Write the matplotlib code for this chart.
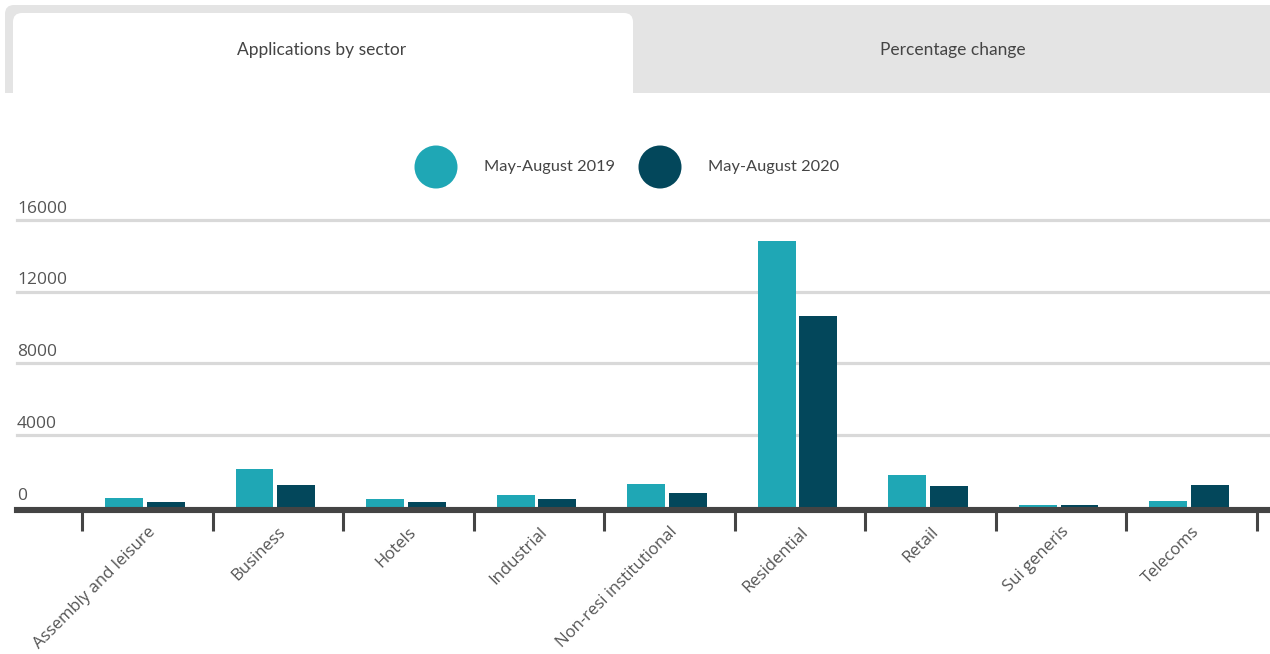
import matplotlib.pyplot as plt
from matplotlib.patches import FancyBboxPatch, Rectangle
import matplotlib.transforms as mtransforms
import numpy as np

sectors = ["Assembly and leisure", "Business", "Hotels", "Industrial",
           "Non-resi institutional", "Residential", "Retail", "Sui generis",
           "Telecoms"]
apps_2019 = [500, 2110, 440, 670, 1280, 14830, 1780, 110, 330]
apps_2020 = [280, 1220, 280, 440, 780, 10650, 1170, 110, 1220]
series_names = ["May-August 2019", "May-August 2020"]
y_ticks = [0, 4000, 8000, 12000, 16000]
tab_names = ["Applications by sector", "Percentage change"]

C19 = "#1fa7b5"
C20 = "#03475b"
AXIS = "#444444"
TEXT = "#555555"

W, H = 1270, 654
fig = plt.figure(figsize=(W / 100, H / 100), dpi=100)

# background layer in pixel units for the tab strip
bg = fig.add_axes([0, 0, 1, 1], zorder=0)
bg.set_xlim(0, W)
bg.set_ylim(H, 0)
bg.axis("off")
bg.add_patch(FancyBboxPatch((5, 5), W - 5 + 20, 88,
                            boxstyle="round,pad=0,rounding_size=9",
                            fc="#e4e4e4", ec="none"))
bg.add_patch(Rectangle((5, 60), W, 33, fc="#e4e4e4", ec="none"))
bg.add_patch(FancyBboxPatch((13, 13), 620, 100,
                            boxstyle="round,pad=0,rounding_size=9",
                            fc="white", ec="none"))
bg.add_patch(Rectangle((0, 93), W, H - 93, fc="white", ec="none"))
bg.text(322, 50, tab_names[0], ha="center", va="center",
        fontsize=12.5, color="#444444", family="Lato")
bg.text(953, 50, tab_names[1], ha="center", va="center",
        fontsize=12.5, color="#444444", family="Lato")

# legend: circles plus labels
for cx, col, name in zip([436, 660], [C19, C20], series_names):
    bg.add_patch(plt.Circle((cx, 167), 21.5, fc=col, ec="none"))
    bg.text(cx + 48, 167, name, ha="left", va="center",
            fontsize=11.8, color="#444444", family="Lato")

# main chart
x0, y_top, y_zero = 17, 220, 507
ax = fig.add_axes([x0 / W, (H - y_zero) / H, (W - x0) / W, (y_zero - y_top) / H],
                  zorder=1)
ax.patch.set_alpha(0)

x = np.arange(len(sectors))
bw = 0.29
ax.bar(x - 0.18, apps_2019, width=bw, color=C19, zorder=2)
ax.bar(x + 0.14, apps_2020, width=bw, color=C20, zorder=2)

ax.set_xlim(-1.0, 8.6)
ax.set_ylim(0, 16000)

for v in y_ticks[1:]:
    ax.axhline(v, color="#d9d9d9", lw=2.3, zorder=0, clip_on=False)

trans = mtransforms.blended_transform_factory(ax.transAxes, ax.transData)
for v in y_ticks:
    ax.annotate(str(v), xy=(0, v), xycoords=trans, xytext=(0, 2.5),
                textcoords="offset points", ha="left", va="bottom",
                fontsize=12.5, color=TEXT, family="Open Sans")

for s in ["top", "right", "left"]:
    ax.spines[s].set_visible(False)
ax.spines["bottom"].set_color(AXIS)
ax.spines["bottom"].set_linewidth(4.4)
ax.spines["bottom"].set_position(("outward", 2.2))
ax.spines["bottom"].set_zorder(3)

ax.set_yticks([])
ax.set_xticks(x)
ax.set_xticklabels(sectors, rotation=45, ha="right", rotation_mode="anchor",
                   fontsize=12.1, color=TEXT, family="Open Sans")
ax.set_xticks(np.arange(-0.5, 9.0, 1.0), minor=True)
ax.tick_params(axis="x", which="major", length=0, pad=10)
ax.tick_params(axis="x", which="minor", length=15, width=2.2, color=AXIS)

fig.savefig("out.png", dpi=100)
